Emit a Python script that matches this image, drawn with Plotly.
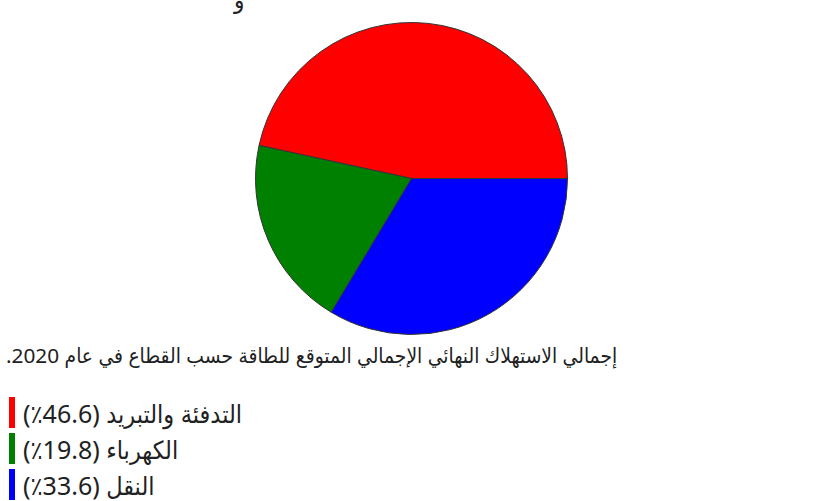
import plotly.graph_objects as go

# Sector shares of projected final energy consumption, 2020
sectors = ["التدفئة والتبريد", "الكهرباء", "النقل"]
shares = [46.6, 19.8, 33.6]
colors = ["#ff0000", "#008000", "#0000ff"]
caption = "إجمالي الاستهلاك النهائي الإجمالي المتوقع للطاقة حسب القطاع في عام 2020."

W, H = 817, 501
FONT = "Noto Sans, DejaVu Sans Condensed, DejaVu Sans, sans-serif"
TEXT_COLOR = "#202122"

RLE, PDF, RLM = "\u202b", "\u202c", "\u200f"  # bidi controls for Arabic strings


def rtl(s):
    return RLE + s + RLM + PDF


def px(x):
    return x / W


def py(y):
    return 1 - y / H


# first slice begins at 3 o'clock and the slices run counterclockwise
start_rotation = 90 - 360 * shares[0] / sum(shares)

cx, cy, r = 411.5, 178.5, 156
fig = go.Figure(
    go.Pie(
        labels=sectors,
        values=shares,
        sort=False,
        direction="counterclockwise",
        rotation=start_rotation,
        marker=dict(colors=colors, line=dict(color="#333333", width=1)),
        textinfo="none",
        hoverinfo="label+percent",
        showlegend=False,
        domain=dict(x=[px(cx - r), px(cx + r)], y=[py(cy + r), py(cy - r)]),
    )
)

annotations = [
    # caption under the pie
    dict(
        text=rtl(caption),
        x=px(4), y=py(355), xref="paper", yref="paper",
        xanchor="left", yanchor="middle", showarrow=False,
        font=dict(family=FONT, size=20.8, color=TEXT_COLOR),
    ),
    # tail of the heading line above the chart
    dict(
        text="و",
        x=px(238), y=py(-1), xref="paper", yref="paper",
        xanchor="center", yanchor="middle", showarrow=False,
        font=dict(family=FONT, size=24, color=TEXT_COLOR),
    ),
]

shapes = []
row_top, row_step, bar_h = 397, 36, 31
for i, (name, val, col) in enumerate(zip(sectors, shares, colors)):
    top = row_top + i * row_step
    shapes.append(dict(
        type="rect", xref="paper", yref="paper",
        x0=px(9), x1=px(15), y0=py(top + bar_h), y1=py(top),
        fillcolor=col, line=dict(width=0),
    ))
    annotations.append(dict(
        text=rtl(f"{name} ({val}٪)"),
        x=px(21), y=py(top + bar_h / 2), xref="paper", yref="paper",
        xanchor="left", yanchor="middle", showarrow=False,
        font=dict(family=FONT, size=25, color=TEXT_COLOR),
    ))

fig.update_layout(
    width=W, height=H,
    margin=dict(l=0, r=0, t=0, b=0),
    paper_bgcolor="white",
    plot_bgcolor="white",
    annotations=annotations,
    shapes=shapes,
)

fig.write_html("out.html")
